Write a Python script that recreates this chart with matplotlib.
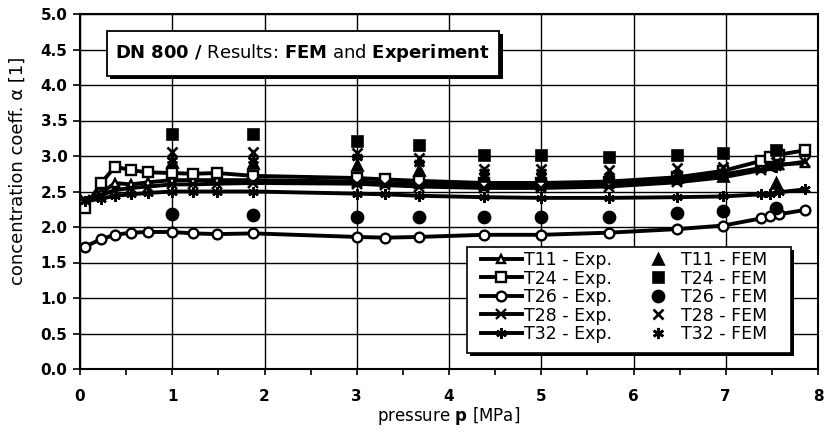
import matplotlib
matplotlib.use("Agg")
import matplotlib.pyplot as plt
from matplotlib.patches import Rectangle
import matplotlib.patheffects as pe

plt.rcParams['font.family'] = ['DejaVu Sans']
plt.rcParams['mathtext.fontset'] = 'dejavusans'

# ---- data ----
p_exp = [0.05, 0.23, 0.38, 0.55, 0.74, 1.0, 1.22, 1.49, 1.88, 3.0, 3.31, 3.67,
         4.38, 5.0, 5.73, 6.47, 6.97, 7.38, 7.48, 7.58, 7.86]
t11_exp = [2.33, 2.48, 2.62, 2.60, 2.63, 2.66, 2.66, 2.66, 2.66, 2.64, 2.62, 2.60,
           2.58, 2.58, 2.60, 2.66, 2.74, 2.83, 2.86, 2.88, 2.90]
t24_exp = [2.27, 2.62, 2.85, 2.80, 2.77, 2.76, 2.75, 2.76, 2.72, 2.69, 2.67, 2.65,
           2.62, 2.62, 2.64, 2.70, 2.79, 2.93, 2.98, 3.02, 3.08]
t26_exp = [1.72, 1.83, 1.89, 1.92, 1.93, 1.93, 1.91, 1.90, 1.91, 1.86, 1.85, 1.86,
           1.89, 1.89, 1.92, 1.97, 2.02, 2.12, 2.15, 2.18, 2.24]
t28_exp = [2.38, 2.45, 2.52, 2.55, 2.57, 2.60, 2.60, 2.61, 2.62, 2.61, 2.59, 2.57,
           2.55, 2.55, 2.57, 2.63, 2.70, 2.80, 2.84, 2.87, 2.92]
t32_exp = [2.36, 2.40, 2.44, 2.46, 2.48, 2.50, 2.50, 2.50, 2.50, 2.47, 2.46, 2.44,
           2.42, 2.41, 2.41, 2.42, 2.43, 2.46, 2.47, 2.49, 2.53]

p_fem = [1.0, 1.88, 3.0, 3.67, 4.38, 5.0, 5.73, 6.47, 6.97, 7.55]
t11_fem = [2.92, 2.90, 2.88, 2.80, 2.72, 2.72, 2.70, 2.70, 2.72, 2.62]
t24_fem = [3.31, 3.31, 3.21, 3.16, 3.02, 3.01, 2.98, 3.02, 3.04, 3.08]
t26_fem = [2.19, 2.17, 2.14, 2.14, 2.14, 2.14, 2.14, 2.20, 2.23, 2.27]
t28_fem = [3.05, 3.06, 3.04, 2.97, 2.82, 2.82, 2.80, 2.83, 2.85, 2.92]
t32_fem = [2.95, 2.95, 2.98, 2.90, 2.78, 2.77, 2.72, 2.75, 2.78, 2.85]

labels_exp = ["T11 - Exp.", "T24 - Exp.", "T26 - Exp.", "T28 - Exp.", "T32 - Exp."]
labels_fem = ["T11 - FEM", "T24 - FEM", "T26 - FEM", "T28 - FEM", "T32 - FEM"]
x_ticks = [0, 1, 2, 3, 4, 5, 6, 7, 8]
y_ticks = [0.0, 0.5, 1.0, 1.5, 2.0, 2.5, 3.0, 3.5, 4.0, 4.5, 5.0]

W, H = 825, 433
fig = plt.figure(figsize=(W / 100, H / 100), dpi=100)
ax = fig.add_axes([80 / W, 64 / H, 738 / W, 355 / H])

ast = (6, 2, 0)
exp_styles = [('^', 6), ('s', 7), ('o', 7), ('x', 7), (ast, 7.5)]
fem_styles = [('^', 7.5), ('s', 7.5), ('o', 8), ('x', 6.5), (ast, 8)]

exp_data = [t11_exp, t24_exp, t26_exp, t28_exp, t32_exp]
fem_data = [t11_fem, t24_fem, t26_fem, t28_fem, t32_fem]

handles = []
for ys, (m, ms), lab in zip(exp_data, exp_styles, labels_exp):
    filled = (m == 'x') or (m == ast)
    h, = ax.plot(p_exp, ys, color='black', lw=2.8, marker=m, ms=ms,
                 mfc='black' if filled else 'white', mec='black', mew=1.7,
                 label=lab, zorder=3)
    handles.append(h)
for ys, (m, ms), lab in zip(fem_data, fem_styles, labels_fem):
    h, = ax.plot(p_fem, ys, ls='none', marker=m, ms=ms, color='black',
                 mfc='black', mec='black', mew=1.9, label=lab, zorder=4)
    handles.append(h)

ax.set_xlim(0, 8)
ax.set_ylim(0, 5)
ax.set_xticks(x_ticks)
ax.set_yticks(y_ticks)
ax.set_xticks([0.5 + i for i in range(8)], minor=True)
ax.set_xticklabels([str(v) for v in x_ticks], fontsize=11, fontweight='bold')
ax.set_yticklabels([f"{v:.1f}" for v in y_ticks], fontsize=11, fontweight='bold')
ax.tick_params(axis='x', which='major', direction='out', length=4.5, width=1.2, pad=10)
ax.tick_params(axis='y', which='major', direction='out', length=5, width=1.2, pad=4)
ax.tick_params(axis='x', which='minor', direction='out', length=4.5, width=1.2)
ax.grid(True, which='major', color='black', lw=1.0)
ax.set_axisbelow(True)
for s in ax.spines.values():
    s.set_linewidth(1.5)

ax.set_xlabel("pressure $\\mathbf{p}$ [MPa]", fontsize=12)
ax.xaxis.set_label_coords(0.5, (369 - 405) / 355)
ax.set_ylabel("concentration coeff. α [1]", fontsize=13)
ax.yaxis.set_label_coords(-0.072, 0.558)

# title box
title = ax.text((115 - 80) / 738, (369 - 53.5) / 355,
                r"$\mathbf{DN\ 800\ /}$ Results: $\mathbf{FEM}$ and $\mathbf{Experiment}$",
                transform=ax.transAxes, fontsize=13, va='center', ha='left', zorder=7)
fig.canvas.draw()
bb = title.get_window_extent()
x0 = 107
x1 = bb.x1 + 9
rect = Rectangle((x0, H - 76), x1 - x0, 45, transform=None, fc='white',
                 ec='black', lw=1.3, zorder=6)
rect.set_path_effects([pe.SimplePatchShadow(offset=(2.5, -2.5), shadow_rgbFace='black', alpha=1),
                       pe.Normal()])
fig.add_artist(rect)
title.remove()
fig.add_artist(title)

# legend frame (drawn separately) + legend content
lrect = Rectangle((467, H - 353), 791 - 467, 353 - 247, transform=None, fc='white',
                  ec='black', lw=1.2, zorder=5)
lrect.set_path_effects([pe.SimplePatchShadow(offset=(2.5, -2.5), shadow_rgbFace='black', alpha=1),
                        pe.Normal()])
fig.add_artist(lrect)

leg = fig.legend(handles=handles, ncol=2, loc='upper left',
                 bbox_to_anchor=(481 / W, 1 - 251 / H), fontsize=12.5, frameon=False,
                 handlelength=2.35, handletextpad=0.12, columnspacing=1.5,
                 labelspacing=0.03, borderpad=0, borderaxespad=0)
leg.set_zorder(8)

fig.savefig("out.png", dpi=100)
